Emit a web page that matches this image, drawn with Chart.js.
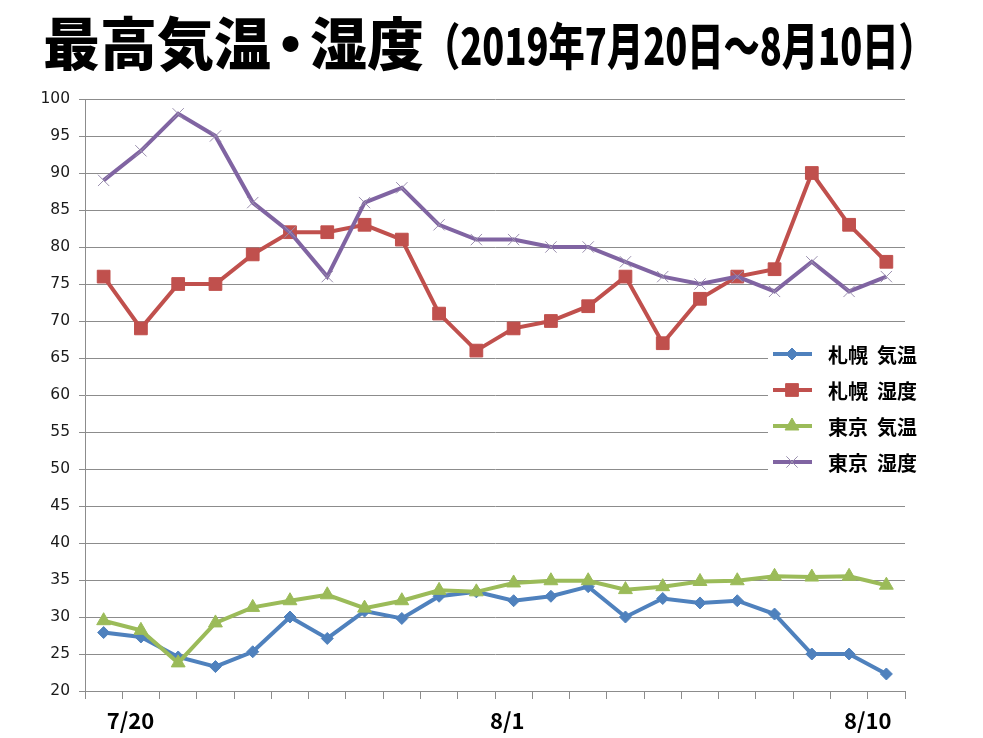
<!DOCTYPE html>
<html>
<head>
<meta charset="utf-8">
<script src="https://cdn.jsdelivr.net/npm/chart.js@4.4.1/dist/chart.umd.min.js"></script>
<style>
  html, body { margin: 0; padding: 0; background: #fff; }
  #wrap { position: relative; width: 983px; height: 738px; }
  #title {
    position: absolute; left: 43px; top: 12px; white-space: nowrap;
    font-family: "Noto Sans CJK JP"; font-weight: 900; color: #000; line-height: 1;
  }
  #title .main { font-size: 57px; }
  #title .dot { display: inline-block; margin: 0 -9px; }
  #title .sub { display: inline-block; font-size: 50px; transform: scaleX(0.725); transform-origin: left bottom; margin-left: 0; }
</style>
</head>
<body>
<div id="wrap">
  <canvas id="chart" width="983" height="738"></canvas>
  <div id="title"><span class="main">最高気温<span class="dot">・</span>湿度</span><span class="sub">（2019年7月20日～8月10日）</span></div>
</div>
<script>
const dates = ["7/20", "7/21", "7/22", "7/23", "7/24", "7/25", "7/26", "7/27", "7/28", "7/29", "7/30", "7/31",
               "8/1", "8/2", "8/3", "8/4", "8/5", "8/6", "8/7", "8/8", "8/9", "8/10"];
const sapporoTemp = [27.9, 27.3, 24.6, 23.3, 25.3, 30.0, 27.1, 30.8, 29.8, 32.8, 33.4, 32.2, 32.8, 34.1, 30.0, 32.5, 31.9, 32.2, 30.4, 25.0, 25.0, 22.3];
const sapporoHum = [76, 69, 75, 75, 79, 82, 82, 83, 81, 71, 66, 69, 70, 72, 76, 67, 73, 76, 77, 90, 83, 78];
const tokyoTemp = [29.5, 28.2, 23.8, 29.2, 31.3, 32.2, 33.0, 31.2, 32.2, 33.6, 33.4, 34.6, 34.9, 34.9, 33.7, 34.1, 34.8, 34.9, 35.5, 35.4, 35.5, 34.3];
const tokyoHum = [89, 93, 98, 95, 86, 82, 76, 86, 88, 83, 81, 81, 80, 80, 78, 76, 75, 76, 74, 78, 74, 76];
const seriesNames = ["札幌 気温", "札幌 湿度", "東京 気温", "東京 湿度"];
const xTickLabels = ["7/20", "8/1", "8/10"];

// where the three date labels sit under the axis (in category units)
const xTickAt = [0.72, 10.83, 20.5];

function series(label, data, color, style, radius, order, extra) {
    return Object.assign({
        label: label,
        data: data,
        borderColor: color,
        backgroundColor: color,
        pointBackgroundColor: color,
        pointBorderColor: color,
        borderWidth: 4,
        pointStyle: style,
        pointRadius: radius,
        pointHoverRadius: radius,
        pointBorderWidth: 1,
        tension: 0,
        order: order,
    }, extra || {});
}

const datasets = [
    series(seriesNames[0], sapporoTemp, "#4f81bd", "rectRot", 6, 3),
    series(seriesNames[1], sapporoHum, "#c0504d", "rect", 9, 2),
    series(seriesNames[2], tokyoTemp, "#9bbb59", "triangle", 8, 1),
    series(seriesNames[3], tokyoHum, "#8064a2", "crossRot", 8, 0, { pointBorderColor: "#9a8fae", pointBorderWidth: 1 }),
];

const legendBox = {
    id: "legendBox",
    afterDatasetsDraw(chart) {
        const ctx = chart.ctx;
        const a = chart.chartArea;
        const x0 = a.right - 137, y0 = a.top + 240;
        ctx.save();
        ctx.fillStyle = "#fff";
        ctx.fillRect(x0, y0, 157, 136);
        ctx.font = "bold 20px 'Noto Sans CJK JP'";
        ctx.textBaseline = "middle";
        chart.data.datasets.forEach((ds, i) => {
            const y = y0 + 15 + i * 36;
            ctx.strokeStyle = ds.borderColor;
            ctx.lineWidth = 4;
            ctx.beginPath();
            ctx.moveTo(x0 + 5, y);
            ctx.lineTo(x0 + 44, y);
            ctx.stroke();
            ctx.fillStyle = ds.pointBackgroundColor;
            ctx.strokeStyle = ds.pointBorderColor;
            ctx.lineWidth = ds.pointBorderWidth;
            Chart.helpers.drawPoint(ctx, { pointStyle: ds.pointStyle, radius: ds.pointRadius, rotation: 0, borderWidth: ds.pointBorderWidth }, x0 + 24, y);
            ctx.fillStyle = "#000";
            const words = ds.label.split(" ");
            let tx = x0 + 60;
            words.forEach(w => {
                ctx.fillText(w, tx, y + 1);
                tx += ctx.measureText(w).width + 9;
            });
        });
        ctx.restore();
    }
};

new Chart(document.getElementById("chart"), {
    type: "line",
    data: { labels: dates, datasets: datasets },
    plugins: [legendBox],
    options: {
        responsive: false,
        animation: false,
        layout: { padding: { left: 0, right: 78, top: 99, bottom: 0 } },
        plugins: { legend: { display: false }, tooltip: { enabled: false } },
        scales: {
            x: {
                offset: true,
                weight: 0,
                grid: { offset: true, drawOnChartArea: false, drawTicks: true, tickLength: 8, color: "#8c8c8c" },
                border: { color: "#8c8c8c" },
                ticks: { display: false },
                afterFit(s) { s.height = 8; },
            },
            xl: {
                type: "linear",
                position: "bottom",
                weight: 1,
                min: -0.5,
                max: 21.5,
                grid: { display: false },
                border: { display: false },
                afterBuildTicks(s) { s.ticks = xTickAt.map(v => ({ value: v })); },
                ticks: {
                    autoSkip: false,
                    maxRotation: 0,
                    padding: 0,
                    color: "#000",
                    font: { family: "Noto Sans CJK JP", weight: "bold", size: 22 },
                    callback: (v, i) => xTickLabels[i],
                },
                afterFit(s) { s.height = 39; },
            },
            y: {
                min: 20,
                max: 100,
                ticks: { stepSize: 5, padding: 9, color: "#1a1a1a", font: { family: "DejaVu Sans", size: 15.5 } },
                grid: { color: "#8c8c8c", tickLength: 6 },
                border: { color: "#8c8c8c" },
                afterFit(s) { s.width = 85; },
            },
        },
    },
});
</script>
</body>
</html>
